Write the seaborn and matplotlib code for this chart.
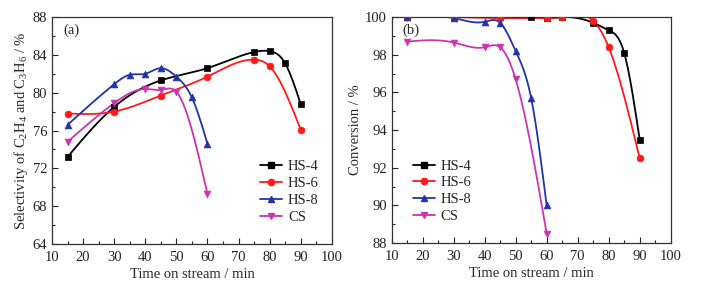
import numpy as np
import pandas as pd
import matplotlib
matplotlib.use("Agg")
import matplotlib.pyplot as plt
from matplotlib.ticker import MultipleLocator
import seaborn as sns

# ----------------- data -----------------
# (a) selectivity of C2H4 + C3H6, %
sel_hs4_t = [15, 30, 45, 60, 75, 80, 85, 90]
sel_hs4 = [73.2, 78.5, 81.3, 82.6, 84.3, 84.4, 83.1, 78.8]
sel_hs6_t = [15, 30, 45, 60, 75, 80, 90]
sel_hs6 = [77.8, 78.0, 79.7, 81.7, 83.5, 82.8, 76.1]
sel_hs8_t = [15, 30, 35, 40, 45, 50, 55, 60]
sel_hs8 = [76.6, 80.9, 81.9, 82.0, 82.6, 81.7, 79.5, 74.6]
sel_cs_t = [15, 30, 40, 45, 50, 60]
sel_cs = [74.8, 78.9, 80.4, 80.3, 80.1, 69.3]

# (b) conversion, %
conv_hs4_t = [15, 30, 45, 55, 60, 65, 75, 80, 85, 90]
conv_hs4 = [100.0, 100.0, 100.0, 100.0, 99.95, 100.0, 99.7, 99.3, 98.1, 93.5]
conv_hs6_t = [15, 30, 45, 60, 65, 75, 80, 90]
conv_hs6 = [100.0, 100.0, 99.95, 99.95, 100.0, 99.8, 98.4, 92.5]
conv_hs8_t = [15, 30, 40, 45, 50, 55, 60]
conv_hs8 = [100.0, 99.95, 99.75, 99.7, 98.2, 95.7, 90.0]
conv_cs_t = [15, 30, 40, 45, 50, 60]
conv_cs = [98.7, 98.65, 98.4, 98.4, 96.7, 88.5]

labels = ["HS-4", "HS-6", "HS-8", "CS"]
colors = ["#000000", "#ff1a1a", "#2233aa", "#cc33b0"]
markers = ["s", "o", "^", "v"]


def spline(x, y, n=200):
    # natural cubic spline, only for drawing the smooth connecting line
    x = np.asarray(x, float)
    y = np.asarray(y, float)
    h = np.diff(x)
    m = len(x)
    A = np.zeros((m, m))
    b = np.zeros(m)
    A[0, 0] = A[-1, -1] = 1
    for i in range(1, m - 1):
        A[i, i - 1] = h[i - 1]
        A[i, i] = 2 * (h[i - 1] + h[i])
        A[i, i + 1] = h[i]
        b[i] = 6 * ((y[i + 1] - y[i]) / h[i] - (y[i] - y[i - 1]) / h[i - 1])
    M = np.linalg.solve(A, b)
    xs = np.linspace(x[0], x[-1], n)
    idx = np.clip(np.searchsorted(x, xs) - 1, 0, m - 2)
    x0, x1 = x[idx], x[idx + 1]
    hh = x1 - x0
    ys = (M[idx] * (x1 - xs) ** 3 / (6 * hh) + M[idx + 1] * (xs - x0) ** 3 / (6 * hh)
          + (y[idx] / hh - M[idx] * hh / 6) * (x1 - xs)
          + (y[idx + 1] / hh - M[idx + 1] * hh / 6) * (xs - x0))
    return xs, ys


sns.set_theme(style="ticks")
plt.rcParams["font.family"] = ["Liberation Serif", "DejaVu Serif"]
plt.rcParams["mathtext.fontset"] = "custom"
plt.rcParams["mathtext.rm"] = "Liberation Serif"
plt.rcParams["mathtext.it"] = "Liberation Serif:italic"

fig = plt.figure(figsize=(7.12, 2.85), dpi=100)
ax1 = fig.add_axes([0.073, 0.144, 0.393, 0.796])
ax2 = fig.add_axes([0.550, 0.147, 0.392, 0.793])


def draw(ax, series):
    for (t, v), lab, c, mk in zip(series, labels, colors, markers):
        xs, ys = spline(t, v)
        ax.plot(xs, ys, color=c, lw=1.3, zorder=2)
        df = pd.DataFrame({"t": t, "v": v})
        sns.scatterplot(data=df, x="t", y="v", ax=ax, color=c, marker=mk, s=24,
                        edgecolor=c, linewidth=0.5, zorder=3, legend=False)
        ax.plot([], [], color=c, lw=1.3, marker=mk, ms=4.5, label=lab)


draw(ax1, [(sel_hs4_t, sel_hs4), (sel_hs6_t, sel_hs6),
           (sel_hs8_t, sel_hs8), (sel_cs_t, sel_cs)])
draw(ax2, [(conv_hs4_t, conv_hs4), (conv_hs6_t, conv_hs6),
           (conv_hs8_t, conv_hs8), (conv_cs_t, conv_cs)])

for ax in (ax1, ax2):
    ax.set_xlim(10, 100)
    ax.xaxis.set_major_locator(MultipleLocator(10))
    ax.xaxis.set_minor_locator(MultipleLocator(5))
    ax.tick_params(which="both", direction="in", top=False, right=False,
                   labelsize=10.5, colors="#222222")
    ax.tick_params(which="major", length=4, width=0.8)
    ax.tick_params(which="minor", length=2, width=0.8)
    ax.tick_params(axis="x", pad=5)
    for s in ax.spines.values():
        s.set_linewidth(0.9)
        s.set_color("#333333")
    ax.set_xlabel("Time on stream / min", fontsize=10.5, labelpad=3)

ax1.set_ylim(64, 88)
ax1.yaxis.set_major_locator(MultipleLocator(4))
ax1.yaxis.set_minor_locator(MultipleLocator(2))
ax1.set_ylabel("Selectivity of C$_2$H$_4$ and C$_3$H$_6$ / %", fontsize=10.5, labelpad=2)
ax1.text(0.04, 0.94, "(a)", transform=ax1.transAxes, fontsize=10.5, va="center")
ax1.legend(loc="lower right", frameon=False, fontsize=10.5, handlelength=1.5,
           handletextpad=0.4, bbox_to_anchor=(1.0, 0.03), labelspacing=0.25)

ax2.set_ylim(88, 100)
ax2.yaxis.set_major_locator(MultipleLocator(2))
ax2.yaxis.set_minor_locator(MultipleLocator(1))
ax2.set_ylabel("Conversion / %", fontsize=10.5, labelpad=2)
ax2.text(0.04, 0.94, "(b)", transform=ax2.transAxes, fontsize=10.5, va="center")
ax2.legend(loc="lower left", frameon=False, fontsize=10.5, handlelength=1.5,
           handletextpad=0.4, bbox_to_anchor=(0.03, 0.03), labelspacing=0.25)

fig.savefig("out.png", dpi=100, facecolor="white")
